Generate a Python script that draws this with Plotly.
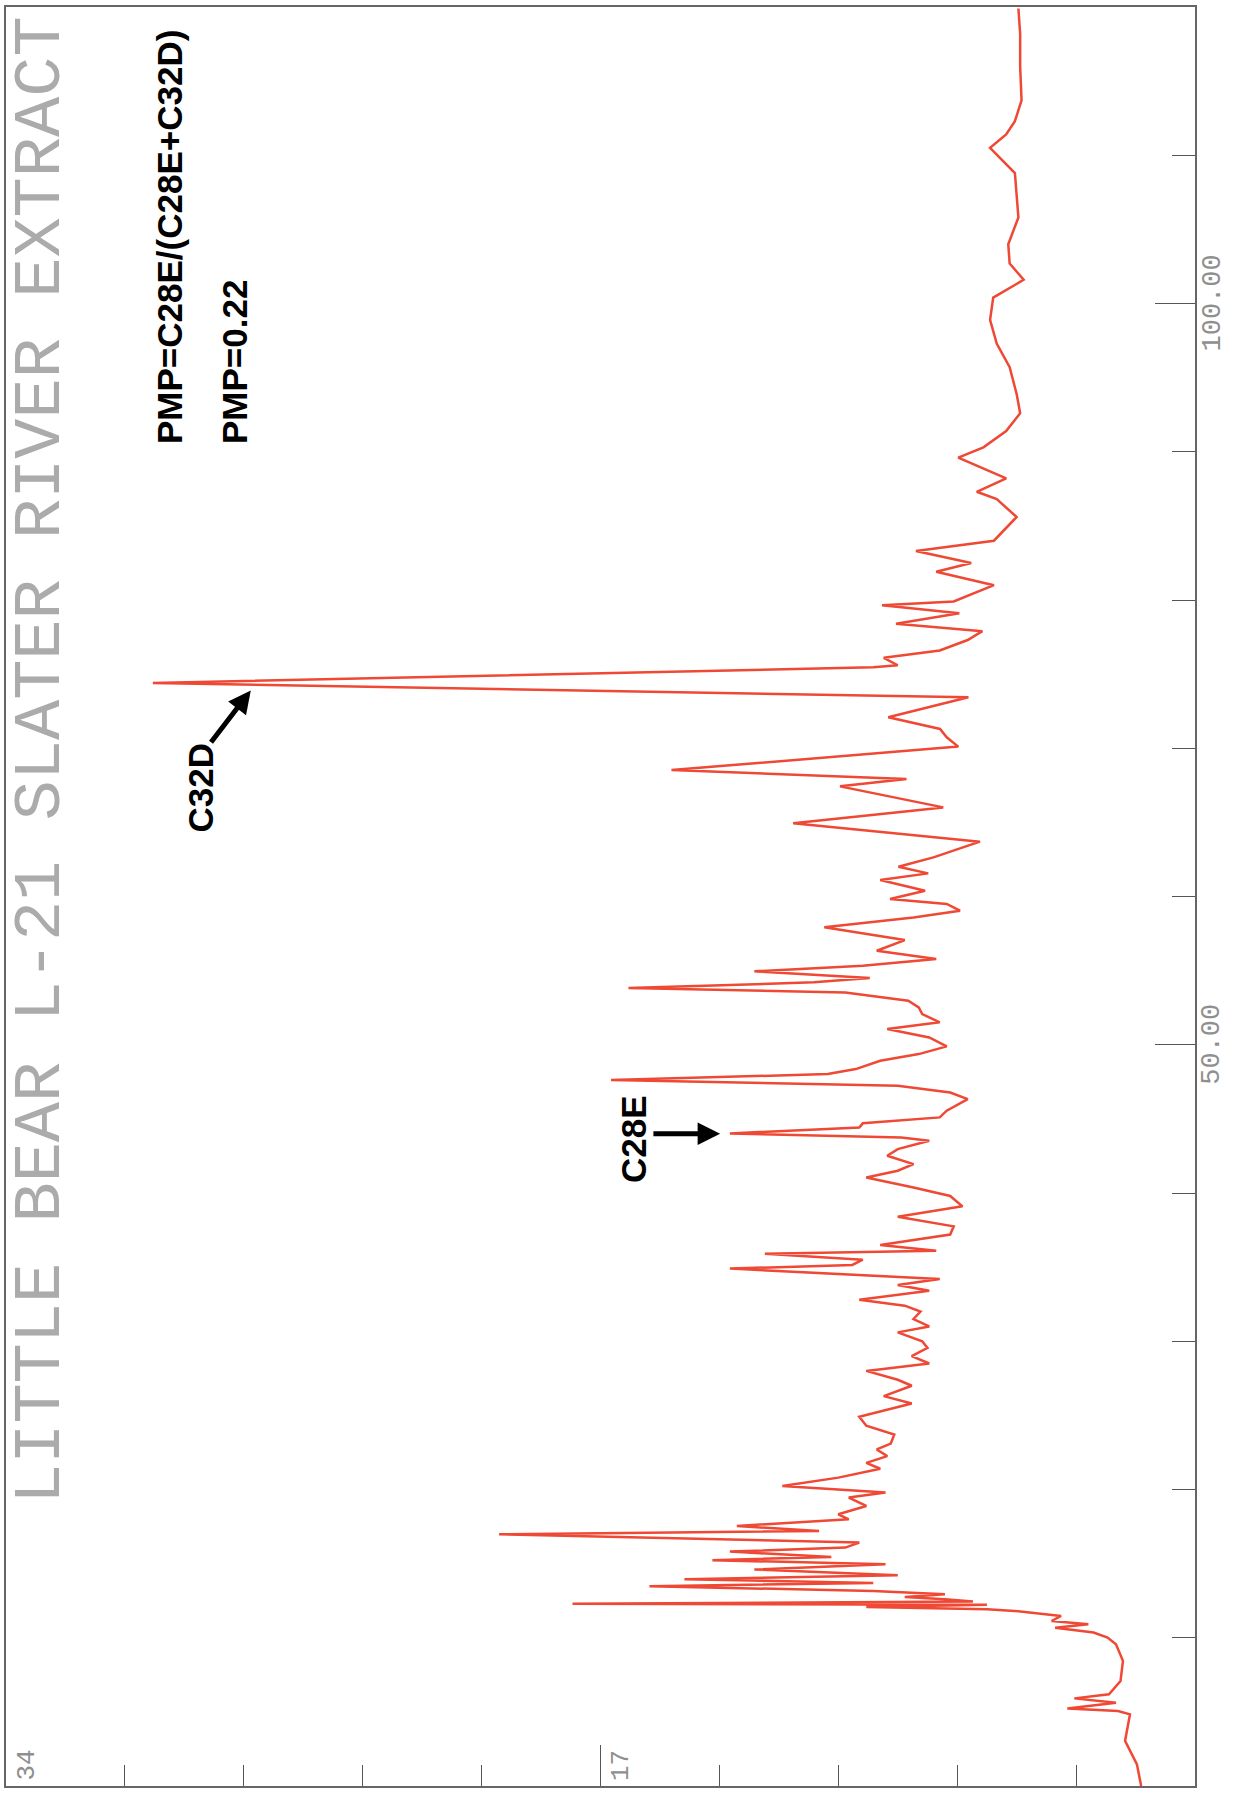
import plotly.graph_objects as go

# ---- data (retention time vs. detector response) ----
retention_time = [
    0.0, 1.46, 3.04, 4.83, 5.06, 5.22, 5.62, 5.91, 6.19, 7.08, 8.44, 9.56, 10.01, 10.35,
    10.68, 10.91, 11.13, 11.47, 11.81, 11.92, 12.08, 12.22, 12.3, 12.44, 12.6, 12.75, 12.93,
    13.16, 13.47, 13.7, 13.94, 14.22, 14.6, 14.96, 15.23, 15.45, 15.81, 16.08, 16.42, 16.98,
    17.2, 17.54, 17.99, 18.33, 18.89, 19.46, 19.79, 20.24,
    20.8, 21.4, 21.8, 22.25, 22.7, 23.1, 23.7, 24.3, 24.9, 25.4, 25.8, 26.3, 27.0, 27.4,
    28.0, 28.5, 29.0, 29.55, 30.0, 30.6, 31.0, 31.5, 32.0, 32.4, 32.8, 33.4, 33.8, 34.2,
    34.9, 35.15, 35.5, 35.9, 36.1, 36.5, 37.2, 37.75, 38.4, 39.1, 39.8,
    40.37, 41.05, 41.5, 41.95, 42.51, 42.96, 43.52, 43.75, 44.02, 44.42, 44.7, 45.1, 45.55,
    46.33, 46.78, 47.23, 47.62, 48.02, 48.36, 48.92, 49.37, 49.89, 50.49, 51.06, 51.51,
    52.07, 52.52, 52.97, 53.53, 53.82, 54.21, 54.5, 54.95, 55.33, 55.78, 56.34, 57.06,
    57.92, 58.59,
    59.04, 59.5, 59.83, 60.39, 61.11, 61.56, 62.01, 62.64, 63.7, 64.94, 66.01, 67.43,
    67.93, 68.53, 70.11, 70.74, 71.3, 72.09, 73.44, 74.4, 75.46, 75.6, 76.1, 76.6, 77.3,
    77.9, 78.4, 79.1, 79.65, 79.9, 81.0, 81.9, 82.5, 83.3, 84.0, 85.6, 86.8, 87.3, 88.2,
    89.6, 90.3, 91.4, 92.6, 93.9, 95.7, 97.3, 98.9, 100.4, 101.6, 102.7, 104.0, 105.8,
    107.4, 108.8, 110.5, 111.4, 112.3, 113.7, 116.0, 118.2, 119.9,
]
response = [
    1.54, 1.66, 2.0, 1.86, 2.2, 3.65, 2.26, 3.45, 2.46, 2.13, 2.06, 2.26, 2.5, 2.9,
    4.0, 3.05, 4.1, 3.83, 5.16, 5.95, 9.4, 5.95, 17.8, 6.35, 7.15, 8.3, 7.15,
    9.2, 15.6, 9.2, 14.6, 8.5, 12.6, 8.85, 13.8, 10.4, 13.3, 10.0, 9.6, 19.9,
    10.75, 13.1, 9.9, 10.2, 9.4, 9.9, 8.85, 11.8,
    10.2, 9.0, 9.4, 8.8, 9.1, 8.7, 8.6, 9.4, 9.6, 8.8, 8.1, 8.9, 8.1, 8.5,
    9.4, 7.6, 8.1, 7.65, 7.8, 8.5, 7.6, 8.05, 7.85, 8.3, 9.6, 7.6, 8.5, 7.3,
    13.3, 9.8, 9.5, 12.3, 7.4, 9.0, 7.0, 6.9, 8.5, 6.65, 7.0,
    8.05, 9.4, 8.5, 8.05, 8.8, 8.5, 7.6, 8.4, 13.3, 9.6, 9.5, 7.3, 7.1,
    6.5, 7.0, 8.5, 16.7, 10.5, 9.7, 9.0, 7.9, 7.1, 7.6, 8.8, 7.3,
    7.8, 7.9, 8.2, 10.0, 16.2, 10.9, 9.3, 12.6, 9.5, 7.4, 9.1, 8.3,
    10.6, 8.05,
    6.72, 7.1, 8.72, 7.72, 9.0, 7.63, 8.48, 7.48, 6.15, 11.49, 7.2, 10.15,
    8.25, 14.97, 6.77, 7.1, 7.29, 8.77, 6.48, 29.8, 9.2, 8.5, 8.9, 7.3, 6.5,
    6.08, 8.55, 6.74, 8.95, 6.9, 5.75, 7.4, 6.4, 7.98, 5.75, 5.1, 5.67, 6.24, 5.4,
    6.77, 6.05, 5.4, 5.0, 5.1, 5.3, 5.67, 5.86, 5.77, 4.9, 5.3, 5.34, 5.05,
    5.1, 5.15, 5.86, 5.4, 5.15, 4.96, 5.0, 5.0, 5.05,
]

time_major_ticks = [50, 100]
time_major_labels = ["50.00", "100.00"]
time_minor_ticks = [10, 20, 30, 40, 60, 70, 80, 90, 110, 120]
resp_major_ticks = [17]
resp_minor_ticks = [3.4, 6.8, 10.2, 13.6, 20.4, 23.8, 27.2, 30.6]
resp_labels = [("34", 34), ("17", 17)]

title_text = "LITTLE BEAR L-21 SLATER RIVER EXTRACT"
ratio_formula = "PMP=C28E/(C28E+C32D)"
ratio_value = "PMP=0.22"
peak_c32d = dict(name="C32D", t=73.9, resp=27.0, tail_t=70.3, tail_resp=28.17)
peak_c28e = dict(name="C28E", t=44.0, resp=13.58, tail_t=44.0, tail_resp=15.53)

W, H = 1233, 1794
ML, MR, MT, MB = 6, 38, 7, 8
PW, PH = W - ML - MR, H - MT - MB


def px(xf):
    return (xf - ML) / PW


def py(yf):
    return (H - MB - yf) / PH


plot_font = "Liberation Mono"
grey = "#8f8f8f"

fig = go.Figure()
fig.add_trace(go.Scatter(
    x=response, y=retention_time, mode="lines",
    line=dict(color="#EF4834", width=2.5),
    hoverinfo="skip", showlegend=False,
))

fig.update_layout(
    width=W, height=H, autosize=False,
    margin=dict(l=ML, r=MR, t=MT, b=MB, pad=0),
    paper_bgcolor="white", plot_bgcolor="white",
    xaxis=dict(
        range=[34, 0], showgrid=False, zeroline=False,
        showline=True, mirror=True, linecolor="#666", linewidth=1.5,
        ticks="inside", tickvals=resp_major_ticks, ticklen=41, tickwidth=1.2,
        tickcolor="#555", showticklabels=False,
        minor=dict(ticks="inside", tickvals=resp_minor_ticks, ticklen=21,
                   tickwidth=1.2, tickcolor="#555"),
        automargin=False, fixedrange=True,
    ),
    yaxis=dict(
        range=[0, 120], side="right", showgrid=False, zeroline=False,
        showline=True, mirror=True, linecolor="#666", linewidth=1.5,
        ticks="inside", tickvals=time_major_ticks,
        ticklen=40, tickwidth=1.2, tickcolor="#555", showticklabels=False,
        minor=dict(ticks="inside", tickvals=time_minor_ticks, ticklen=23,
                   tickwidth=1.2, tickcolor="#555"),
        automargin=False, fixedrange=True,
    ),
)

annotations = [
    dict(text=title_text, xref="paper", yref="paper", x=px(41), y=py(760),
         xanchor="center", yanchor="middle", textangle=-90, showarrow=False,
         font=dict(family=plot_font, size=67, color="#ababab")),
    dict(text="<b>" + ratio_formula + "</b>", xref="paper", yref="paper",
         x=px(169), y=py(446), xanchor="center", yanchor="bottom",
         textangle=-90, showarrow=False,
         font=dict(family="Liberation Sans", size=35, color="black")),
    dict(text="<b>" + ratio_value + "</b>", xref="paper", yref="paper",
         x=px(234), y=py(446), xanchor="center", yanchor="bottom",
         textangle=-90, showarrow=False,
         font=dict(family="Liberation Sans", size=35, color="black")),
    dict(text="<b>" + peak_c32d["name"] + "</b>", xref="paper", yref="paper",
         x=px(200), y=py(835), xanchor="center", yanchor="bottom",
         textangle=-90, showarrow=False,
         font=dict(family="Liberation Sans", size=35, color="black")),
    dict(text="<b>" + peak_c28e["name"] + "</b>", xref="paper", yref="paper",
         x=px(633), y=py(1139), xanchor="center", yanchor="middle",
         textangle=-90, showarrow=False,
         font=dict(family="Liberation Sans", size=35, color="black")),
]
for pk in (peak_c32d, peak_c28e):
    annotations.append(dict(
        text="", x=pk["resp"], y=pk["t"], xref="x", yref="y",
        ax=pk["tail_resp"], ay=pk["tail_t"], axref="x", ayref="y",
        showarrow=True, arrowhead=2, arrowsize=0.9, arrowwidth=5,
        arrowcolor="black", standoff=0,
    ))
# time-axis tick labels, outside the right border
for val, lab in zip(time_major_ticks, time_major_labels):
    annotations.append(dict(
        text=lab, x=1, y=val, xref="paper", yref="y", xanchor="left",
        yanchor="middle", xshift=1, textangle=-90, showarrow=False,
        font=dict(family=plot_font, size=27, color=grey), borderpad=0,
    ))
# response-axis labels, inside the bottom edge
for txt, val in resp_labels:
    annotations.append(dict(
        text=txt, x=val, y=0, xref="x", yref="y", xanchor="left",
        yanchor="bottom", xshift=3, yshift=3, textangle=-90, showarrow=False,
        font=dict(family=plot_font, size=26, color=grey),
    ))
fig.update_layout(annotations=annotations)

fig.write_html("out.html")
